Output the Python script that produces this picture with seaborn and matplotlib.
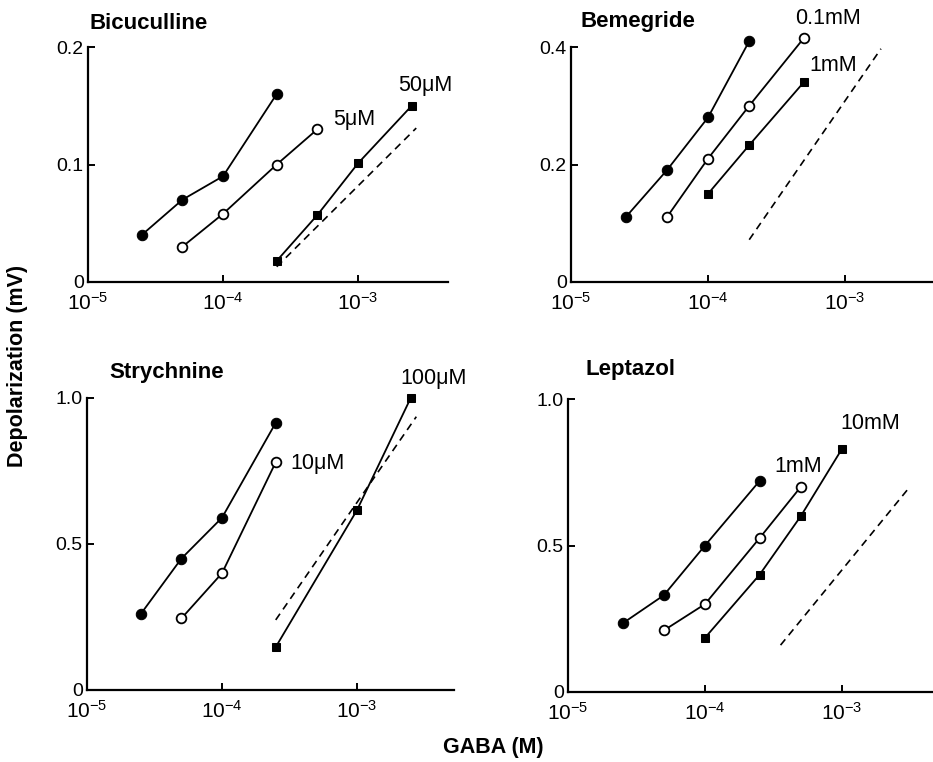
import numpy as np
import pandas as pd
import matplotlib
matplotlib.use("Agg")
import matplotlib.pyplot as plt
import matplotlib.ticker as ticker
import seaborn as sns

# GABA concentration (M) and depolarization (mV)
# control = filled circles, low dose = open circles, high dose = filled squares,
# dashed = line for the high dose shifted curve

# Bicuculline
bic_ctrl_x = [2.5e-5, 5e-5, 1e-4, 2.5e-4]
bic_ctrl_y = [0.040, 0.070, 0.090, 0.160]
bic_low_x = [5e-5, 1e-4, 2.5e-4, 5e-4]
bic_low_y = [0.030, 0.058, 0.100, 0.130]
bic_high_x = [2.5e-4, 5e-4, 1e-3, 2.5e-3]
bic_high_y = [0.018, 0.057, 0.101, 0.150]
bic_dash_x = [2.5e-4, 2.7e-3]
bic_dash_y = [0.013, 0.131]

# Bemegride
bem_ctrl_x = [2.5e-5, 5e-5, 1e-4, 2e-4]
bem_ctrl_y = [0.11, 0.19, 0.28, 0.41]
bem_low_x = [5e-5, 1e-4, 2e-4, 5e-4]
bem_low_y = [0.11, 0.21, 0.30, 0.415]
bem_high_x = [1e-4, 2e-4, 5e-4]
bem_high_y = [0.15, 0.233, 0.34]
bem_dash_x = [2e-4, 1.83e-3]
bem_dash_y = [0.072, 0.397]

# Strychnine
str_ctrl_x = [2.5e-5, 5e-5, 1e-4, 2.5e-4]
str_ctrl_y = [0.26, 0.45, 0.59, 0.915]
str_low_x = [5e-5, 1e-4, 2.5e-4]
str_low_y = [0.245, 0.40, 0.78]
str_high_x = [2.5e-4, 1e-3, 2.5e-3]
str_high_y = [0.147, 0.616, 1.0]
str_dash_x = [2.5e-4, 2.75e-3]
str_dash_y = [0.24, 0.936]

# Leptazol
lep_ctrl_x = [2.5e-5, 5e-5, 1e-4, 2.5e-4]
lep_ctrl_y = [0.234, 0.33, 0.50, 0.72]
lep_low_x = [5e-5, 1e-4, 2.5e-4, 5e-4]
lep_low_y = [0.21, 0.30, 0.525, 0.70]
lep_high_x = [1e-4, 2.5e-4, 5e-4, 1e-3]
lep_high_y = [0.185, 0.40, 0.60, 0.83]
lep_dash_x = [3.56e-4, 3e-3]
lep_dash_y = [0.16, 0.69]

titles = ['Bicuculline', 'Bemegride', 'Strychnine', 'Leptazol']
low_labels = ['5μM', '0.1mM', '10μM', '1mM']
high_labels = ['50μM', '1mM', '100μM', '10mM']
y_ticks = [[0, 0.1, 0.2], [0, 0.2, 0.4], [0, 0.5, 1.0], [0, 0.5, 1.0]]
y_ticklabels = [['0', '0.1', '0.2'], ['0', '0.2', '0.4'],
                ['0', '0.5', '1.0'], ['0', '0.5', '1.0']]
x_ticks = [1e-5, 1e-4, 1e-3]
x_ticklabels = [r'$10^{-5}$', r'$10^{-4}$', r'$10^{-3}$']

panels = [
    (bic_ctrl_x, bic_ctrl_y, bic_low_x, bic_low_y, bic_high_x, bic_high_y, bic_dash_x, bic_dash_y),
    (bem_ctrl_x, bem_ctrl_y, bem_low_x, bem_low_y, bem_high_x, bem_high_y, bem_dash_x, bem_dash_y),
    (str_ctrl_x, str_ctrl_y, str_low_x, str_low_y, str_high_x, str_high_y, str_dash_x, str_dash_y),
    (lep_ctrl_x, lep_ctrl_y, lep_low_x, lep_low_y, lep_high_x, lep_high_y, lep_dash_x, lep_dash_y),
]

sns.set_theme(style="ticks")
plt.rcParams['font.family'] = ['Liberation Sans', 'DejaVu Sans']
plt.rcParams['mathtext.fontset'] = 'custom'
plt.rcParams['mathtext.rm'] = 'Liberation Sans'
plt.rcParams['mathtext.it'] = 'Liberation Sans:italic'
plt.rcParams['mathtext.bf'] = 'Liberation Sans:bold'
plt.rcParams['text.color'] = 'black'
plt.rcParams['axes.labelcolor'] = 'black'
plt.rcParams['xtick.color'] = 'black'
plt.rcParams['ytick.color'] = 'black'

fig = plt.figure(figsize=(9.33, 7.62), dpi=100)
W, H = 933, 762

# axes boxes in pixels: left, right, top, bottom
boxes = [(88, 448, 47, 282), (571, 933, 47, 282),
         (87, 454, 398, 690), (568, 933, 399, 692)]
decade_px = [135, 137, 135, 137]
ylims = [0.2, 0.4, 1.0, 1.0]

# label positions (data coords) for concentration labels
low_pos = [(6.5e-4, 0.138), (4.3e-4, 0.448), (3.2e-4, 0.774), (3.2e-4, 0.771)]
high_pos = [(2.0e-3, 0.167), (5.5e-4, 0.368), (2.1e-3, 1.068), (9.7e-4, 0.917)]
title_pos = [(0.005, 1.10), (0.027, 1.11), (0.06, 1.089), (0.047, 1.10)]

for i, (cx, cy, lx, ly, hx, hy, dx, dy) in enumerate(panels):
    l, r, t, b = boxes[i]
    ax = fig.add_axes([l / W, 1 - b / H, (r - l) / W, (b - t) / H])

    df_c = pd.DataFrame({'x': cx, 'y': cy})
    df_l = pd.DataFrame({'x': lx, 'y': ly})
    df_h = pd.DataFrame({'x': hx, 'y': hy})
    df_d = pd.DataFrame({'x': dx, 'y': dy})

    sns.lineplot(data=df_d, x='x', y='y', ax=ax, color='black', linestyle=(0, (4.5, 3.2)),
                 linewidth=1.2, clip_on=False)
    sns.lineplot(data=df_c, x='x', y='y', ax=ax, color='black', linewidth=1.3,
                 marker='o', markersize=7.5, markerfacecolor='black',
                 markeredgecolor='black', clip_on=False, zorder=5)
    sns.lineplot(data=df_l, x='x', y='y', ax=ax, color='black', linewidth=1.3,
                 marker='o', markersize=7, markerfacecolor='white',
                 markeredgecolor='black', markeredgewidth=1.3, clip_on=False, zorder=5)
    sns.lineplot(data=df_h, x='x', y='y', ax=ax, color='black', linewidth=1.3,
                 marker='s', markersize=6, markerfacecolor='black',
                 markeredgecolor='black', clip_on=False, zorder=5)

    ax.set_xscale('log')
    xmax = 10 ** (-5 + (r - l) / decade_px[i])
    ax.set_xlim(1e-5, xmax)
    ax.set_ylim(0, ylims[i])
    ax.set_xticks(x_ticks)
    ax.set_xticklabels(x_ticklabels)
    ax.xaxis.set_minor_locator(ticker.NullLocator())
    ax.set_yticks(y_ticks[i])
    ax.set_yticklabels(y_ticklabels[i])
    ax.tick_params(axis='both', direction='in', length=5, width=1.4,
                   labelsize=14, color='black', labelcolor='black')
    ax.tick_params(axis='x', pad=7, labelsize=15)
    ax.tick_params(axis='y', pad=3)
    ax.set_xlabel('')
    ax.set_ylabel('')
    for s in ['top', 'right']:
        ax.spines[s].set_visible(False)
    for s in ['left', 'bottom']:
        ax.spines[s].set_linewidth(1.6)
        ax.spines[s].set_color('black')

    ax.text(title_pos[i][0], title_pos[i][1], titles[i], transform=ax.transAxes,
            fontsize=16, fontweight='bold', va='center', ha='left', color='black')
    ax.text(low_pos[i][0], low_pos[i][1], low_labels[i], fontsize=15.5,
            va='center', ha='left', color='black')
    ax.text(high_pos[i][0], high_pos[i][1], high_labels[i], fontsize=15.5,
            va='center', ha='left', color='black')

fig.text(18 / W, 1 - 366 / H, 'Depolarization (mV)', rotation=90,
         fontsize=15.5, fontweight='bold', ha='center', va='center', color='black')
fig.text(493 / W, 1 - 748 / H, 'GABA (M)', fontsize=15.5, fontweight='bold',
         ha='center', va='center', color='black')

fig.savefig('out.png', dpi=100)
